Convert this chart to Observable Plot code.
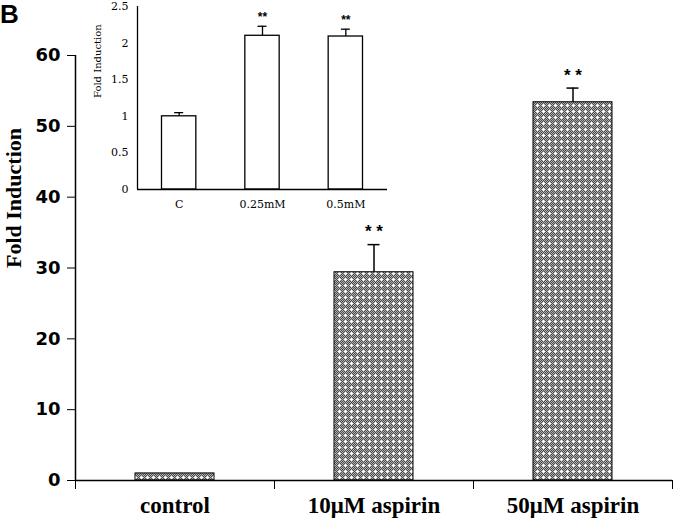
<!DOCTYPE html>
<html><head><meta charset="utf-8">
<script src="https://cdn.jsdelivr.net/npm/d3@7"></script>
<script src="https://cdn.jsdelivr.net/npm/@observablehq/plot@0.6"></script>
<style>
body{margin:0;background:#fff}
#wrap{position:relative;width:675px;height:518px;overflow:hidden}
#main,#inset{position:absolute;left:0;top:0}
#letter{position:absolute;left:0;top:1px;font:bold 26px/26px "Liberation Sans",sans-serif;color:#000}
</style></head>
<body>
<div id="wrap">
<svg width="0" height="0" style="position:absolute">
  <defs><pattern id="dots" width="6" height="6" patternUnits="userSpaceOnUse" shape-rendering="crispEdges"></pattern></defs>
</svg>
<div id="main"></div>
<div id="inset"></div>
<div id="letter">B</div>
</div>
<script>
// main chart data
const mainCats = ["control", "10\u03bcM aspirin", "50\u03bcM aspirin"];
const mainValues = [1, 29.4, 53.4];
const mainErrors = [0, 3.9, 2.0];
const mainSig = ["", "* *", "* *"];
const mainTicks = [0, 10, 20, 30, 40, 50, 60];

// inset data
const insetCats = ["C", "0.25mM", "0.5mM"];
const insetValues = [1.0, 2.1, 2.09];
const insetErrors = [0.05, 0.13, 0.10];
const insetSig = ["", "**", "**"];
const insetTicks = [0, 0.5, 1, 1.5, 2, 2.5];

// build pattern
const pat = document.getElementById("dots");
const NS = "http://www.w3.org/2000/svg";
function px(x, y, c) { const r = document.createElementNS(NS, "rect"); r.setAttribute("x", x); r.setAttribute("y", y); r.setAttribute("width", 1); r.setAttribute("height", 1); r.setAttribute("fill", c); pat.appendChild(r); }
for (let y = 0; y < 6; y++) for (let x = 0; x < 6; x++) px(x, y, (x + y) % 2 ? "#4a4a4a" : "#b4b4b4");
[[3,2],[2,3],[3,3],[4,3],[3,4]].forEach(([x,y]) => px(x, y, "#ffffff"));

const main = mainCats.map((c, i) => ({c, i, v: mainValues[i], e: mainErrors[i], s: mainSig[i]}));
const mainErr = main.filter(d => d.e > 0);

const serif = "Liberation Serif";
const plotMain = Plot.plot({
  width: 675, height: 518,
  marginLeft: 75, marginRight: 3, marginTop: 55, marginBottom: 38,
  style: {fontFamily: "DejaVu Sans", fontSize: "18px", fontWeight: "bold", background: "white", color: "black"},
  x: {type: "linear", domain: [0, 3], ticks: [0, 1, 2, 3], tickFormat: () => "", tickSize: 9, label: null},
  y: {domain: [0, 60], ticks: mainTicks, tickSize: 8, tickPadding: 7, label: null},
  marks: [
    Plot.rectY(main, {x1: d => d.i, x2: d => d.i + 1, y1: 0, y2: "v", insetLeft: 60, insetRight: 60, fill: "url(#dots)", stroke: "black", strokeWidth: 1}),
    Plot.ruleX(mainErr, {x: d => d.i + 0.5, y1: "v", y2: d => d.v + d.e, strokeWidth: 1.5}),
    Plot.ruleY(mainErr, {y: d => d.v + d.e, x1: d => d.i + 0.5, x2: d => d.i + 0.5, insetLeft: -6, insetRight: -6, strokeWidth: 1.5}),
    Plot.text(mainErr, {x: d => d.i + 0.5, y: d => d.v + d.e, text: "s", dy: -13, fontFamily: "Liberation Sans", fontWeight: "bold", fontSize: 17}),
    Plot.ruleX([0], {strokeWidth: 1.5}),
    Plot.ruleY([0], {strokeWidth: 1.5}),
    Plot.text(main, {x: d => d.i + 0.5, y: 0, dy: 25, text: "c", fontFamily: serif, fontWeight: "bold", fontSize: 23}),
    Plot.text(["Fold Induction"], {frameAnchor: "left", dx: -62, rotate: -90, fontFamily: serif, fontWeight: "bold", fontSize: 22})
  ]
});
document.getElementById("main").appendChild(plotMain);

const inset = insetCats.map((c, i) => ({c, i, v: insetValues[i], e: insetErrors[i], s: insetSig[i]}));
const plotInset = Plot.plot({
  width: 400, height: 220,
  marginLeft: 137, marginRight: 13, marginTop: 6, marginBottom: 31,
  style: {fontFamily: "DejaVu Serif", fontSize: "11px", background: "transparent", color: "black"},
  x: {type: "linear", domain: [0, 3], axis: null},
  y: {domain: [0, 2.5], ticks: insetTicks, tickFormat: d => String(d), tickSize: 0, tickPadding: 9, label: null},
  marks: [
    Plot.rectY(inset, {x1: d => d.i, x2: d => d.i + 1, y1: 0, y2: "v", insetLeft: 24.5, insetRight: 24.5, fill: "white", stroke: "black", strokeWidth: 1.3}),
    Plot.ruleX(inset, {x: d => d.i + 0.5, y1: "v", y2: d => d.v + d.e, strokeWidth: 1.3}),
    Plot.ruleY(inset, {y: d => d.v + d.e, x1: d => d.i + 0.5, x2: d => d.i + 0.5, insetLeft: -4.5, insetRight: -4.5, strokeWidth: 1.3}),
    Plot.text(inset, {x: d => d.i + 0.5, y: d => d.v + d.e, text: "s", dy: -9, fontFamily: "Liberation Sans", fontWeight: "bold", fontSize: 12}),
    Plot.ruleX([0], {strokeWidth: 1.3}),
    Plot.ruleY([0], {strokeWidth: 1.3}),
    Plot.text(inset, {x: d => d.i + 0.5, y: 0, dy: 15, text: "c"}),
    Plot.text(["Fold Induction"], {frameAnchor: "left", dx: -40, rotate: -90, fontSize: 10})
  ]
});
document.getElementById("inset").appendChild(plotInset);
</script>
</body></html>
